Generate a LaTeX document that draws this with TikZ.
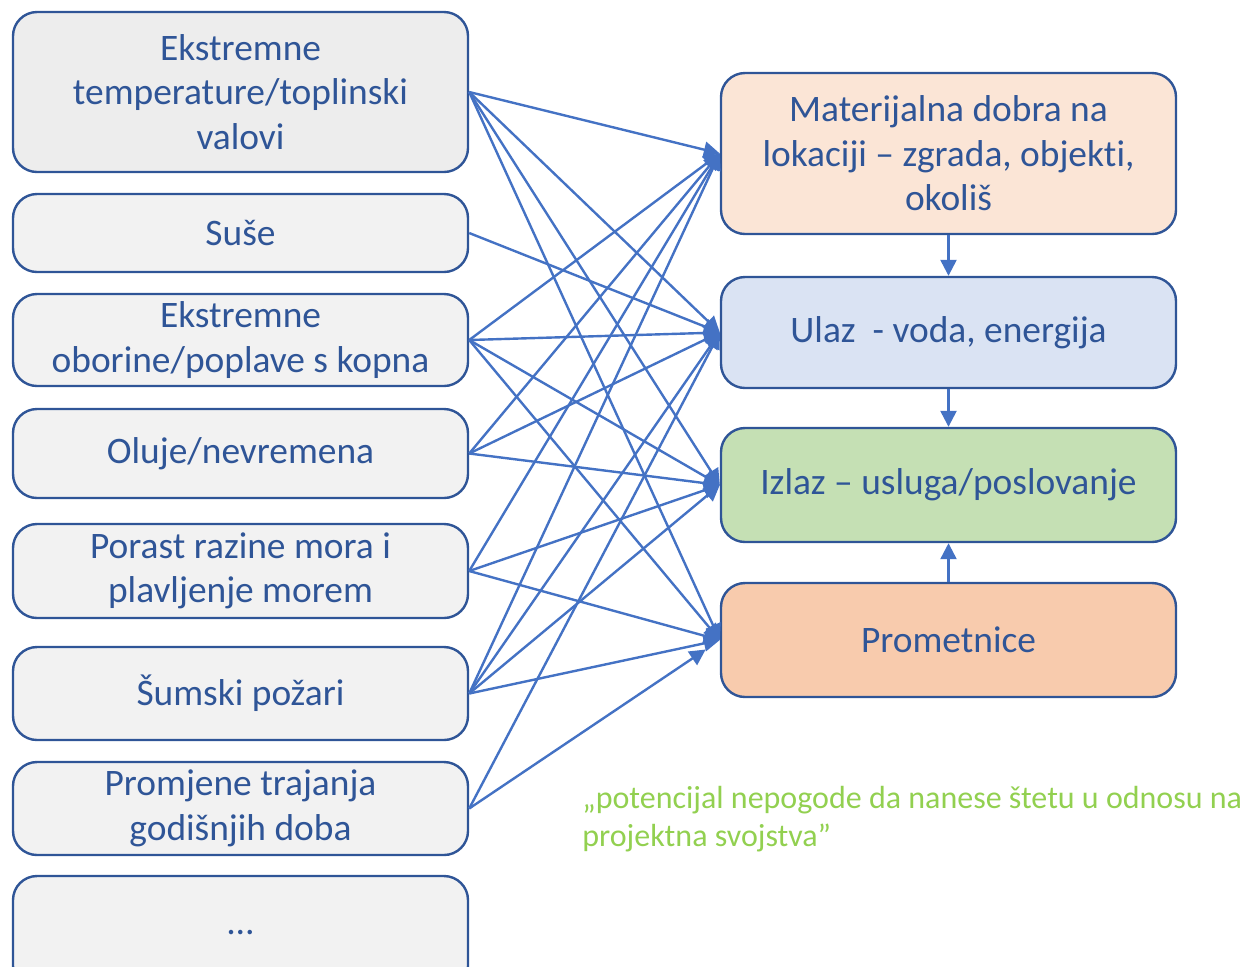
\documentclass[tikz,border=0pt]{standalone}
\usepackage{fontspec}
\setmainfont{Carlito}[Ligatures=NoCommon]
\usetikzlibrary{arrows.meta}

\definecolor{boxline}{HTML}{2F5597}
\definecolor{linkblue}{HTML}{4472C4}
\definecolor{hazgray}{HTML}{F2F2F2}
\definecolor{hazgraydark}{HTML}{EDEDED}
\definecolor{peach}{HTML}{FBE5D6}
\definecolor{paleblue}{HTML}{DAE3F3}
\definecolor{palegreen}{HTML}{C5E0B4}
\definecolor{paleorange}{HTML}{F8CBAD}
\definecolor{notegreen}{HTML}{92D050}

\tikzset{
	hazard/.style={draw=boxline, line width=1.2pt, rounded corners=12pt, fill=hazgray,
		text=boxline, minimum width=227.5pt, inner sep=0pt, align=center,
		font=\fontsize{18.7}{22.3}\selectfont},
	asset/.style={hazard},
	link/.style={draw=linkblue, line width=1.2pt, -{Triangle[length=8pt,width=8pt]}},
	note/.style={text=notegreen, inner sep=0pt, align=left, font=\fontsize{16}{19}\selectfont},
}

\begin{document}
\begin{tikzpicture}[x=0.5pt, y=-0.5pt]
	
	\useasboundingbox (0,0) rectangle (1246,966);
	
	% hazards
	\node[hazard, fill=hazgraydark, minimum height=80pt] (h1) at (240.5, 92)  {Ekstremne\\temperature/toplinski\\valovi};
	\node[hazard, minimum height=39pt]   (h2) at (240.5, 233)   {Suše};
	\node[hazard, minimum height=46pt]   (h3) at (240.5, 340)   {Ekstremne\\oborine/poplave s kopna};
	\node[hazard, minimum height=44.5pt] (h4) at (240.5, 453.5) {Oluje/nevremena};
	\node[hazard, minimum height=47pt]   (h5) at (240.5, 571)   {Porast razine mora i\\plavljenje morem};
	\node[hazard, minimum height=46.5pt] (h6) at (240.5, 693.5) {Šumski požari};
	\node[hazard, minimum height=46.5pt] (h7) at (240.5, 808.5) {Promjene trajanja\\godišnjih doba};
	\node[hazard, minimum height=57pt]   (h8) at (240.5, 933)   {…};
	
	% project assets
	\node[asset, fill=peach, minimum height=80.5pt]    (ma) at (948.5, 153.5) {Materijalna dobra na\\lokaciji – zgrada, objekti,\\okoliš};
	\node[asset, fill=paleblue, minimum height=55.5pt] (ul) at (948.5, 332.5) {Ulaz~~- voda, energija};
	\node[asset, fill=palegreen, minimum height=57pt]  (iz) at (948.5, 485)   {Izlaz – usluga/poslovanje};
	\node[asset, fill=paleorange, minimum height=57pt] (pr) at (948.5, 640)   {Prometnice};
	
	\node[note, anchor=west] (note) at (582, 819) {„potencijal nepogode da nanese štetu u odnosu na\\projektna svojstva”};
	
	% exposure links
	\foreach \s/\t in {h1/ma, h1/ul, h1/iz, h1/pr, h2/ul,
		h3/ma, h3/ul, h3/iz, h3/pr, h4/ma, h4/ul, h4/iz,
		h5/ma, h5/iz, h5/pr, h6/ma, h6/ul, h6/iz, h6/pr, h7/ul}
		\draw[link] (\s.east) -- (\t.west);
	\draw[link, shorten >=8.5pt] (h7.east) -- (pr.west);
	
	\draw[link] (ma) -- (ul);
	\draw[link] (ul) -- (iz);
	\draw[link] (pr) -- (iz);
	
\end{tikzpicture}
\end{document}
